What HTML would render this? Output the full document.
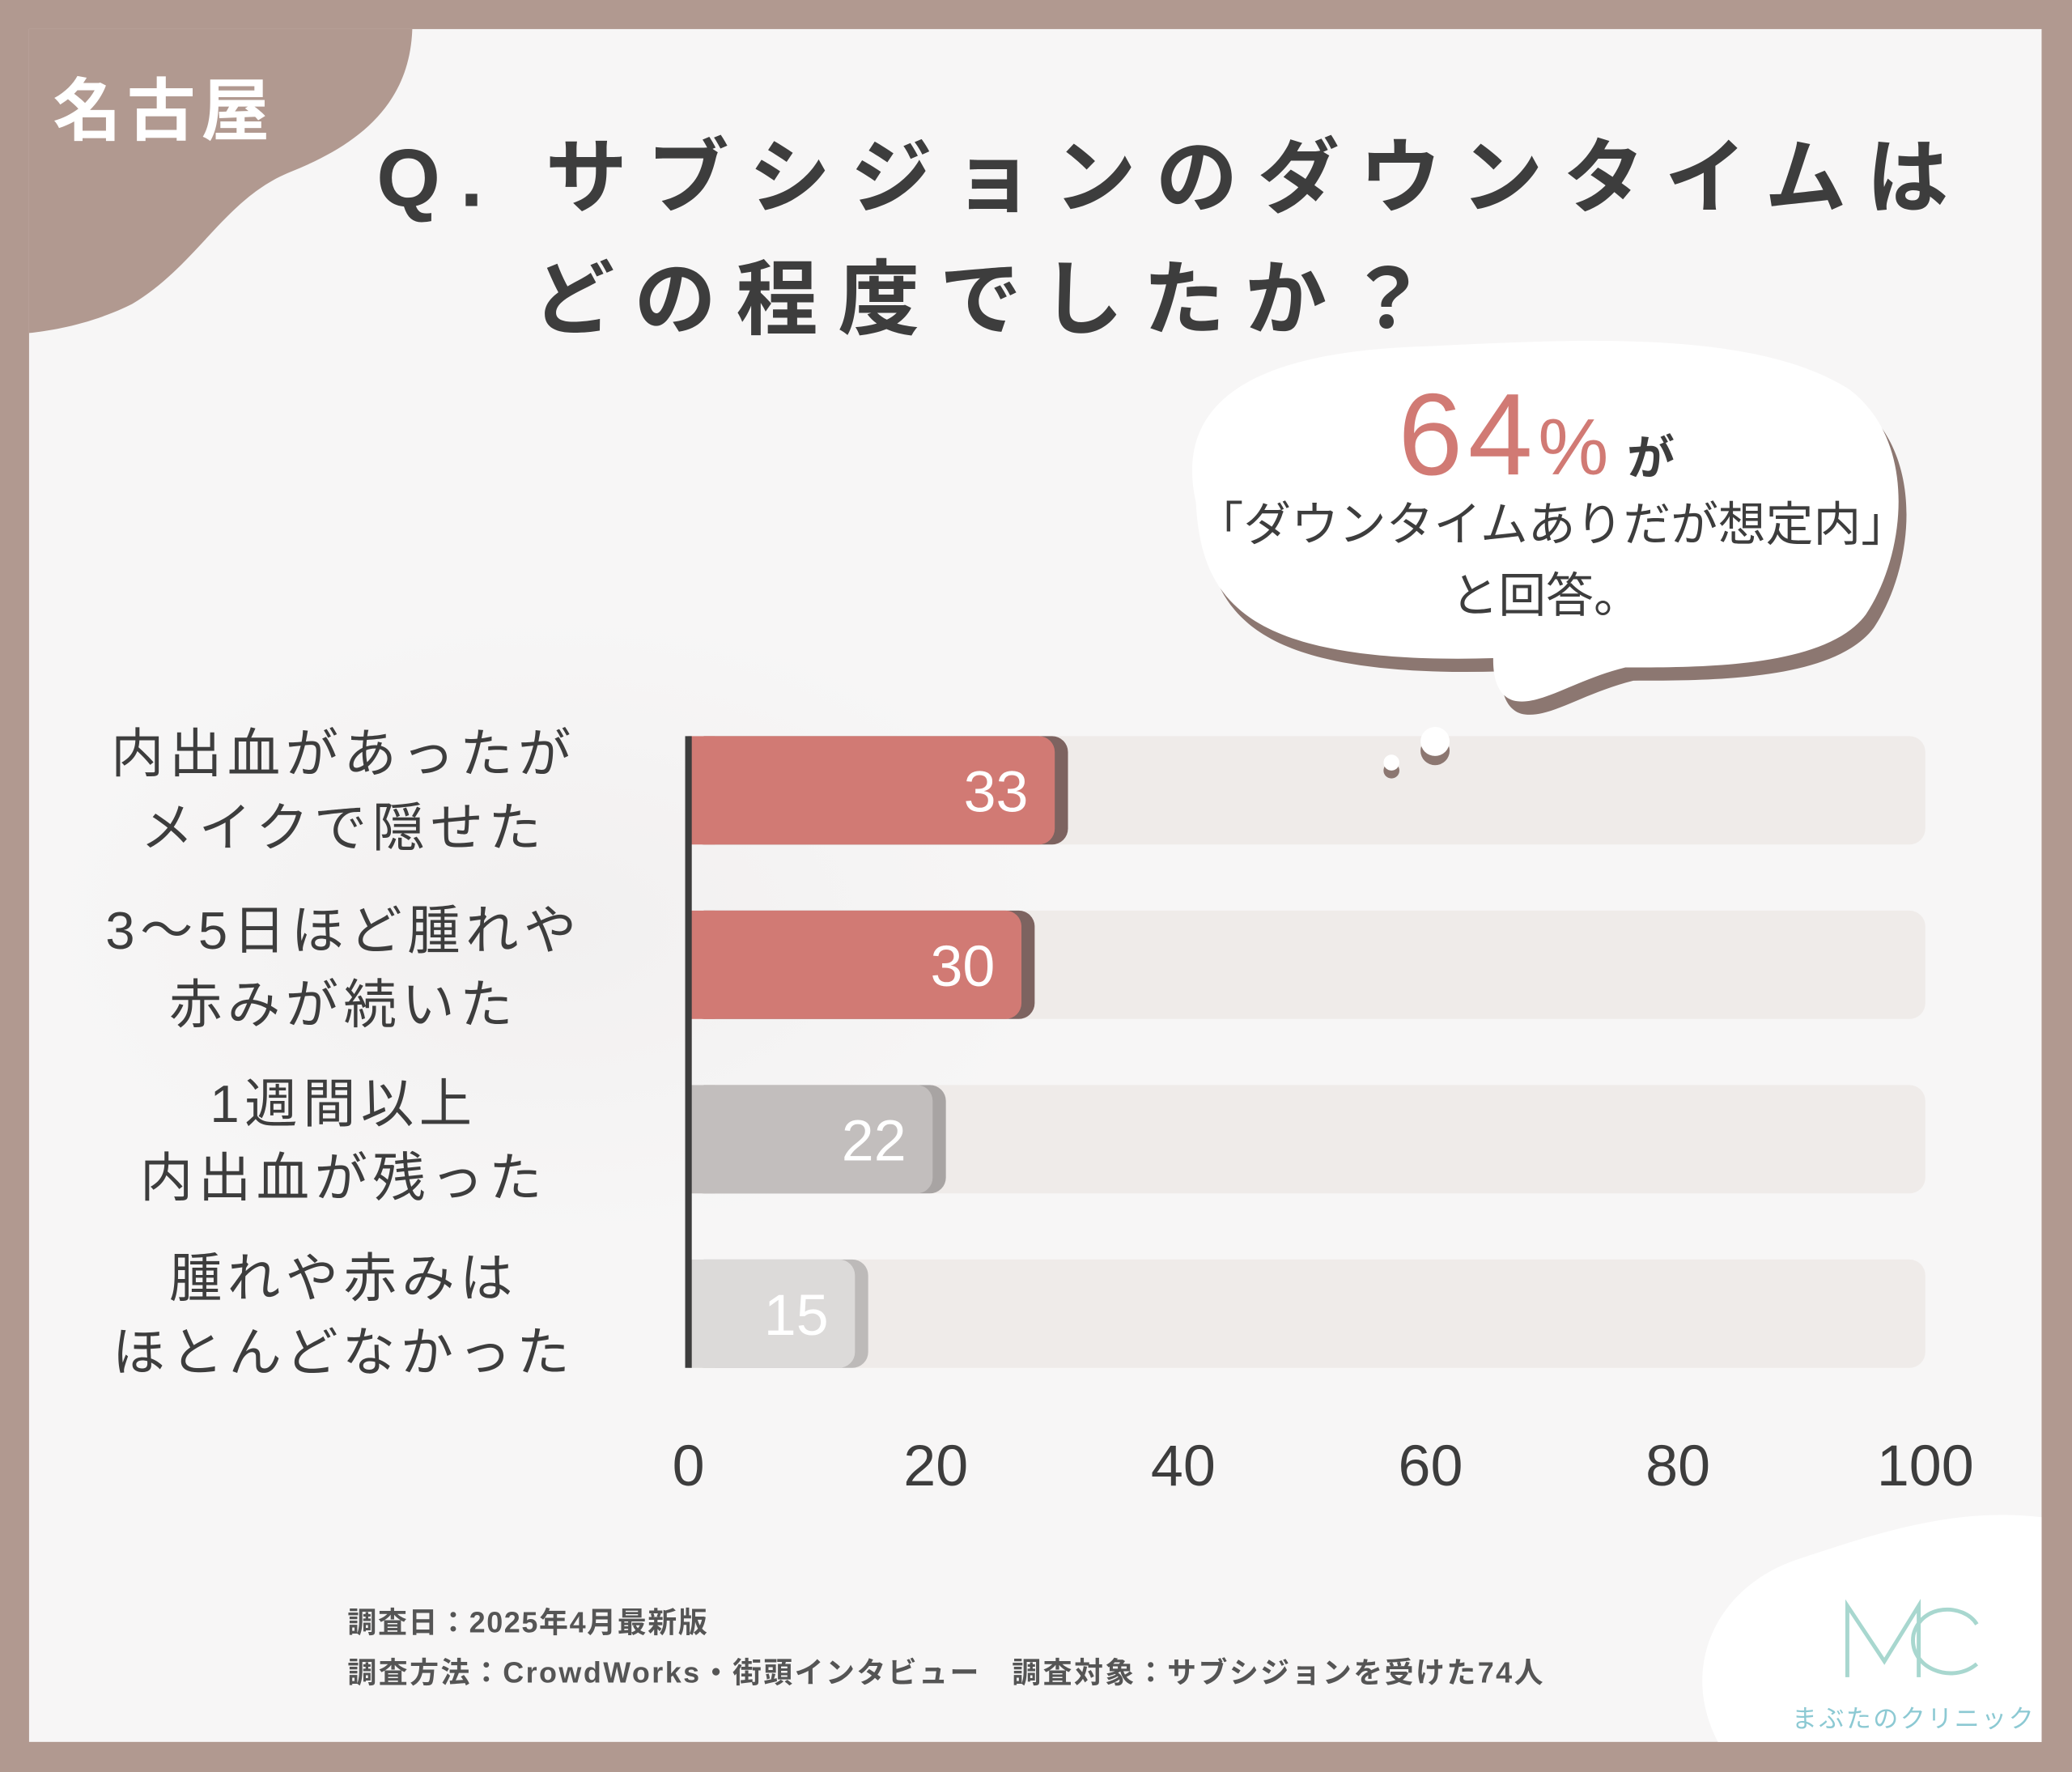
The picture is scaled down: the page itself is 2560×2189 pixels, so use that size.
<!DOCTYPE html>
<html><head><meta charset="utf-8">
<style>
html,body{margin:0;padding:0;width:2560px;height:2189px;overflow:hidden;background:#b19990;}
#stage{position:absolute;left:0;top:0;width:1568px;height:1341px;transform:scale(1.63265);transform-origin:0 0;font-family:"Liberation Sans","Noto Sans CJK JP",sans-serif;}
.t{position:absolute;white-space:nowrap;}
</style></head>
<body>
<div id="stage">
<svg width="1568" height="1341" viewBox="0 0 1568 1341" style="position:absolute;left:0;top:0">
  <defs>
    <radialGradient id="g1" cx="0.5" cy="0.5" r="0.5"><stop offset="0" stop-color="#eceaea"/><stop offset="1" stop-color="#f7f6f6"/></radialGradient>
  </defs>
  <rect x="0" y="0" width="1568" height="1341" fill="#b19990"/>
  <rect x="22" y="22" width="1523" height="1296" fill="#f7f6f6"/>
  <ellipse cx="420" cy="700" rx="390" ry="240" fill="url(#g1)" opacity="0.5"/>
  <path d="M22,22 L312,22 C310,80 270,110 220,130 C170,150 150,200 100,230 C70,245 40,250 22,252 Z" fill="#b19990"/>
  <path d="M1545,1148 C1480,1140 1420,1160 1360,1180 C1300,1200 1270,1260 1300,1318 L1545,1318 Z" fill="#ffffff"/>
  <g>
    <path transform="translate(6,10)" d="M905,380 C885,290 975,265 1080,262 C1200,256 1330,250 1400,295 C1452,335 1442,420 1412,465 C1382,505 1290,505 1230,505 C1190,515 1165,535 1145,530 C1130,525 1130,505 1130,498 C1060,500 990,495 950,470 C918,450 907,420 905,380 Z" fill="#8c7771"/>
    <path d="M905,380 C885,290 975,265 1080,262 C1200,256 1330,250 1400,295 C1452,335 1442,420 1412,465 C1382,505 1290,505 1230,505 C1190,515 1165,535 1145,530 C1130,525 1130,505 1130,498 C1060,500 990,495 950,470 C918,450 907,420 905,380 Z" fill="#ffffff"/>
  </g>
  <g id="chart"></g>
  <g>
    <circle cx="1086" cy="568" r="11" fill="#8c7771"/><circle cx="1086" cy="561" r="11" fill="#fff"/>
    <circle cx="1053" cy="583" r="6" fill="#8c7771"/><circle cx="1053" cy="577" r="6" fill="#fff"/>
  </g>
</svg>
<div class="t" style="left:40px;top:42px;font-size:52px;font-weight:bold;color:#fff;letter-spacing:4px;">名古屋</div>
<div class="t" style="left:285px;top:90px;font-size:62px;font-weight:bold;color:#3d3d3d;letter-spacing:15px;line-height:92px;">Q. サブシジョンのダウンタイムは<br><span style="padding-left:118px">どの程度でしたか？</span></div>
<div class="t" style="left:1058px;top:278px;font-size:88px;color:#d17a74;letter-spacing:4px;">64<span style="font-size:60px">%</span><span style="font-size:36px;color:#3d3d3d;margin-left:10px;font-weight:bold">が</span></div>
<div class="t" style="left:905px;top:370px;width:530px;text-align:center;font-size:36px;color:#3d3d3d;line-height:54px;">「ダウンタイムありだが想定内」<br>と回答。</div>
<div class="t" style="left:60px;top:543px;width:400px;text-align:center;font-size:40px;color:#3d3d3d;letter-spacing:4px;line-height:56px;">内出血があったが<br>メイクで隠せた</div>
<div class="t" style="left:60px;top:677px;width:400px;text-align:center;font-size:40px;color:#3d3d3d;letter-spacing:4px;line-height:56px;">3～5日ほど腫れや<br>赤みが続いた</div>
<div class="t" style="left:60px;top:808px;width:400px;text-align:center;font-size:40px;color:#3d3d3d;letter-spacing:4px;line-height:56px;">1週間以上<br>内出血が残った</div>
<div class="t" style="left:60px;top:940px;width:400px;text-align:center;font-size:40px;color:#3d3d3d;letter-spacing:4px;line-height:56px;">腫れや赤みは<br>ほとんどなかった</div>
<div class="t" style="left:263px;top:1210px;font-size:22px;font-weight:bold;color:#555;letter-spacing:1px;">調査日：2025年4月最新版</div>
<div class="t" style="left:263px;top:1248px;font-size:22px;font-weight:bold;color:#555;letter-spacing:1.5px;">調査方法：CrowdWorks・街頭インタビュー　調査対象：サブシジョンを受けた74人</div>
<svg width="110" height="70" style="position:absolute;left:1392px;top:1207px">
  <path d="M6,62 L6,8 L34,50 L60,8 L60,62" fill="none" stroke="#a8d7cf" stroke-width="3"/>
  <path d="M104,22 C94,6 62,6 56,30 C52,55 85,68 104,52" fill="none" stroke="#a8d7cf" stroke-width="3"/>
</svg>
<div class="t" style="left:1356px;top:1286px;font-size:19px;color:#8cc9d3;letter-spacing:1.5px;">まぶたのクリニック</div>
</div>
<script>
const categories = ["内出血があったがメイクで隠せた","3～5日ほど腫れや赤みが続いた","1週間以上内出血が残った","腫れや赤みはほとんどなかった"];
const values = [33, 30, 22, 15];
const tickValues = [0, 20, 40, 60, 80, 100];
const tickLabels = ["0","20","40","60","80","100"];
const barColors = ["#d17a74","#d17a74","#c2bebd","#dcdad9"];
const shadowColors = ["#7d6360","#7d6360","#a8a4a3","#bdbab9"];

const NS = "http://www.w3.org/2000/svg";
const g = document.getElementById('chart');
const x0 = 521;
function xAxis(v){ return x0 + v * 9.36; }
function xBar(v){ return x0 + v * 8.4; }
function yBand(i){ return 557 + i * 132; }
const bh = 82;
function mk(tag, attrs){ const e=document.createElementNS(NS,tag); for(const k in attrs) e.setAttribute(k,attrs[k]); g.appendChild(e); return e; }

categories.forEach((c,i)=>{
  const y = yBand(i);
  const tr = mk('rect',{x:x0, y:y, width:xAxis(100)-x0, height:bh, rx:12, fill:'#efebe9'});
  
  
  const w = xBar(values[i]) - x0;
  const sh = mk('rect',{x:x0, y:y, width:w+10, height:bh, rx:12, fill:shadowColors[i]});
  
  
  const b = mk('rect',{x:x0, y:y, width:w, height:bh, rx:12, fill:barColors[i]});
  
  
  const sq = mk('rect',{x:x0, y:y, width:20, height:bh, fill:barColors[i]});
  
  
  const t = mk('text',{x:x0+w-20, y:y+bh/2+16, 'text-anchor':'end', 'font-size':44, fill:'#fff', 'font-family':'Liberation Sans, sans-serif'});
  t.textContent = values[i];
  
  
});
const ax = mk('line',{x1:x0, y1:557, x2:x0, y2:1035, stroke:'#3d3d3d', 'stroke-width':5});


tickValues.forEach((v,i)=>{
  const t = mk('text',{x:xAxis(v), y:1124, 'text-anchor':'middle', 'font-size':44, fill:'#3d3d3d', 'font-family':'Liberation Sans, sans-serif'});
  t.textContent = tickLabels[i];
  
  
});
</script>
</body></html>
